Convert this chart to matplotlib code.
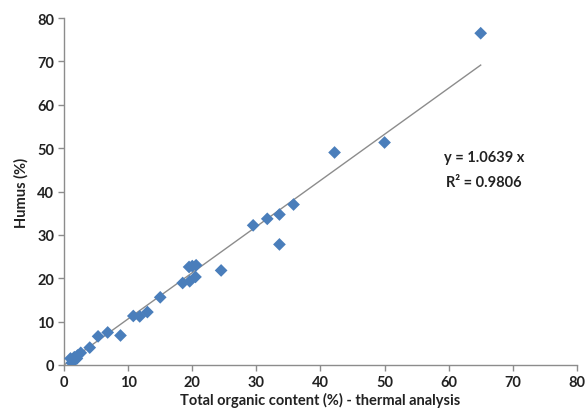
import matplotlib
matplotlib.use("Agg")
import matplotlib.pyplot as plt
import numpy as np

toc = [65.0, 50.0, 42.2, 35.8, 33.6, 31.7, 29.5, 33.6, 24.5, 20.6, 20.0, 19.5,
       20.5, 19.6, 18.5, 15.0, 13.0, 11.8, 10.8, 8.8, 6.8, 5.3, 4.0, 2.6, 2.1,
       1.6, 1.0, 1.2, 1.5, 2.0]
humus = [76.5, 51.3, 49.0, 37.0, 34.7, 33.7, 32.2, 27.8, 21.8, 23.0, 22.8, 22.6,
         20.3, 19.3, 18.9, 15.6, 12.2, 11.2, 11.3, 6.8, 7.5, 6.6, 4.0, 2.8, 2.2,
         1.8, 1.5, 0.5, 1.0, 1.5]
slope = 1.0639
r2 = 0.9806
x_ticks = [0, 10, 20, 30, 40, 50, 60, 70, 80]
y_ticks = [0, 10, 20, 30, 40, 50, 60, 70, 80]

plt.rcParams['font.family'] = ['Lato', 'DejaVu Sans']

fig = plt.figure(figsize=(5.88, 4.14), dpi=100)
ax = fig.add_axes([0.109, 0.116, 0.872, 0.838])

xl = np.array([0, max(toc)])
ax.plot(xl, slope * xl, color='#8c8c8c', lw=1.0, zorder=2)
ax.scatter(toc, humus, marker='D', s=42, color='#4a7ebb', edgecolors='none', zorder=3)

ax.set_xlim(0, 80)
ax.set_ylim(0, 80)
ax.set_xticks(x_ticks)
ax.set_yticks(y_ticks)
ax.set_xticklabels([str(t) for t in x_ticks], fontsize=10.5, fontweight='bold', color='#222222')
ax.set_yticklabels([str(t) for t in y_ticks], fontsize=10.5, fontweight='bold', color='#222222')

for s in ['top', 'right']:
    ax.spines[s].set_visible(False)
for s in ['left', 'bottom']:
    ax.spines[s].set_color('#8c8c8c')
    ax.spines[s].set_linewidth(1.0)
ax.tick_params(direction='out', length=4, color='#8c8c8c', width=1.0, pad=3)

ax.set_xlabel('Total organic content (%) - thermal analysis', fontsize=10.5,
              fontweight='bold', color='#222222', labelpad=2)
ax.set_ylabel('Humus (%)', fontsize=10.5, fontweight='bold', color='#222222', labelpad=6)

ax.text(59.3, 47.9, f'y = {slope} x', fontsize=10.5, fontweight='bold', color='#222222',
        ha='left', va='center')
ax.text(59.6, 42.1, f'R² = {r2}', fontsize=10.5, fontweight='bold', color='#222222',
        ha='left', va='center')

fig.savefig('out.png', dpi=100, facecolor='white')
